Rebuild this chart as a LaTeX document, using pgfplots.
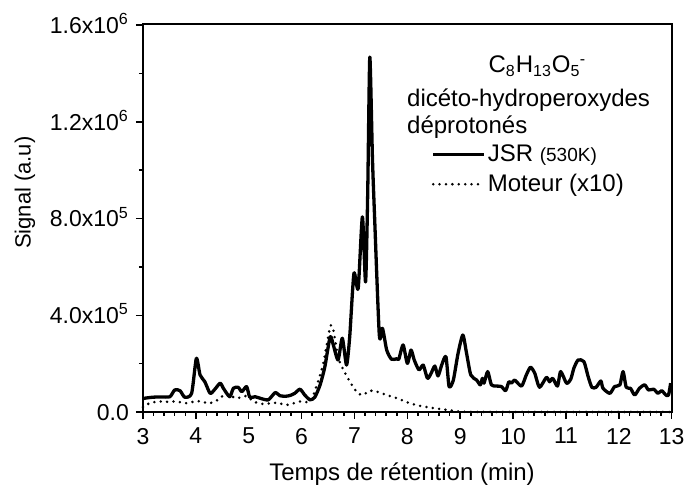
\documentclass[border=0pt]{standalone}
\usepackage{fontspec}
\setmainfont{Liberation Sans}
\usepackage{pgfplots}
\pgfplotsset{compat=1.18}

% signal in units of 1e5
\pgfplotstableread{
t v
3.00 0.55
3.04 0.57
3.19 0.61
3.35 0.62
3.51 0.63
3.60 0.91
3.70 0.88
3.79 0.61
3.92 0.77
4.01 2.22
4.08 1.53
4.17 1.25
4.27 0.77
4.36 0.94
4.46 1.19
4.52 0.98
4.64 0.63
4.71 0.98
4.80 1.02
4.87 0.84
4.96 1.05
5.02 0.61
5.12 0.63
5.21 0.57
5.37 0.50
5.50 0.80
5.59 0.67
5.70 0.65
5.78 0.68
5.87 0.77
5.97 0.94
6.06 0.70
6.16 0.50
6.25 0.61
6.35 1.12
6.44 1.87
6.54 3.11
6.60 2.77
6.69 2.15
6.77 3.05
6.85 1.94
6.91 3.11
6.99 5.73
7.07 5.11
7.15 8.07
7.21 5.38
7.25 9.00
7.29 14.68
7.34 10.50
7.38 8.10
7.47 3.18
7.53 3.46
7.61 2.56
7.70 2.18
7.80 2.20
7.84 2.19
7.92 2.77
8.00 2.01
8.07 2.56
8.13 2.15
8.22 1.74
8.30 1.94
8.38 1.39
8.45 1.60
8.52 1.90
8.58 1.49
8.65 1.94
8.73 2.29
8.79 1.05
8.87 1.32
8.96 2.43
9.05 3.18
9.12 2.43
9.20 1.53
9.31 1.32
9.38 1.12
9.42 1.39
9.45 1.19
9.52 1.67
9.59 1.12
9.69 1.07
9.78 1.05
9.86 0.88
9.92 1.25
9.97 1.19
10.03 1.32
10.16 1.07
10.25 1.53
10.33 1.85
10.41 1.60
10.50 1.02
10.63 1.43
10.69 1.25
10.75 1.39
10.84 1.07
10.90 1.67
11.01 1.19
11.09 1.35
11.15 1.81
11.23 2.15
11.34 2.08
11.42 1.46
11.49 1.02
11.57 1.02
11.66 1.28
11.70 0.98
11.83 0.77
11.92 1.05
12.02 1.12
12.08 1.67
12.14 1.02
12.22 0.98
12.30 0.70
12.39 0.98
12.49 1.12
12.56 0.91
12.66 0.94
12.74 0.77
12.81 0.88
12.89 0.70
12.94 0.70
12.98 1.19
}\jsr

\pgfplotstableread{
t v
3.00 0.20
3.04 0.29
3.26 0.43
3.45 0.42
3.63 0.43
3.83 0.36
4.01 0.45
4.15 0.40
4.27 0.36
4.46 0.55
4.55 0.75
4.77 0.57
4.96 0.66
5.09 0.43
5.27 0.33
5.53 0.38
5.72 0.29
5.97 0.43
6.16 0.43
6.28 1.05
6.41 2.01
6.54 3.52
6.60 3.39
6.70 2.20
6.85 1.50
6.97 1.05
7.07 0.77
7.16 0.70
7.29 0.88
7.42 0.84
7.61 0.70
7.80 0.57
8.02 0.38
8.24 0.25
8.52 0.15
8.77 0.08
9.02 0.01
9.50 0.00
13.00 0.00
}\moteur

\newcommand{\tickfont}{\fontsize{11.5}{13}\selectfont}
\newcommand{\labfont}{\fontsize{12}{14}\selectfont}

\begin{document}
\begin{tikzpicture}
\begin{axis}[
    width=264.4pt, height=194pt, scale only axis,
    xmin=3, xmax=13, ymin=0, ymax=16.05,
    tick pos=left, tick align=outside,
    major tick length=3.5pt, minor tick length=2pt,
    xtick={3,4,5,6,7,8,9,10,11,12,13}, minor x tick num=4,
    ytick={0,4,8,12,16}, minor y tick num=1,
    yticklabels={0.0, 4.0x10\textsuperscript{5}, 8.0x10\textsuperscript{5},
                 1.2x10\textsuperscript{6}, 1.6x10\textsuperscript{6}},
    /pgf/number format/assume math mode=true,
    ticklabel style={font=\tickfont},
    xticklabel style={yshift=-1pt},
    yticklabel style={anchor=east, text height=8.2pt, text depth=0pt},
    axis line style={line width=1pt},
    every tick/.style={black, line width=0.75pt},
    clip=false,
    legend style={at={(rel axis cs:0.545,0.695)}, anchor=north west,
        draw=none, fill=none, font=\labfont, inner sep=0pt,
        row sep=2.8pt, nodes={inner sep=1pt}},
    legend cell align=left,
    legend image code/.code={\draw[#1] (0pt,0pt) -- (25.5pt,0pt);},
]
\addplot[black, line width=1.65pt, smooth, tension=0.4, line join=round]
    table[x=t, y=v] {\jsr};
\addlegendentry{JSR {\fontsize{9.5}{11}\selectfont(530K)}}
\addplot[black, line width=1.4pt, line cap=round, dash pattern=on 0pt off 3.2pt, smooth, tension=0.4]
    table[x=t, y=v] {\moteur};
\addlegendentry{Moteur (x10)}

\coordinate (bl) at (rel axis cs:0,0);
\coordinate (tr) at (rel axis cs:1,1);

\node[anchor=base, font=\labfont] at (rel axis cs:0.746,0.874)
    {C\textsubscript{8}H\textsubscript{13}O\textsubscript{5}\kern-0.3pt\textsuperscript{-}};
\node[anchor=base west, font=\labfont, inner sep=0pt] at (rel axis cs:0.499,0.788)
    {dicéto-hydroperoxydes};
\node[anchor=base west, font=\labfont, inner sep=0pt] at (rel axis cs:0.499,0.718)
    {déprotonés};

\node[rotate=90, font=\fontsize{11}{13}\selectfont] at ([xshift=-59pt]rel axis cs:0,0.565)
    {Signal (a.u)};
\node[font=\labfont] at ([yshift=-31pt]rel axis cs:0.49,0)
    {Temps de rétention (min)};
\end{axis}
\pgfresetboundingbox
\path[use as bounding box] ([shift={(-71.5pt,-40pt)}]bl) rectangle ([shift={(7.15pt,12pt)}]tr);
\end{tikzpicture}
\end{document}
